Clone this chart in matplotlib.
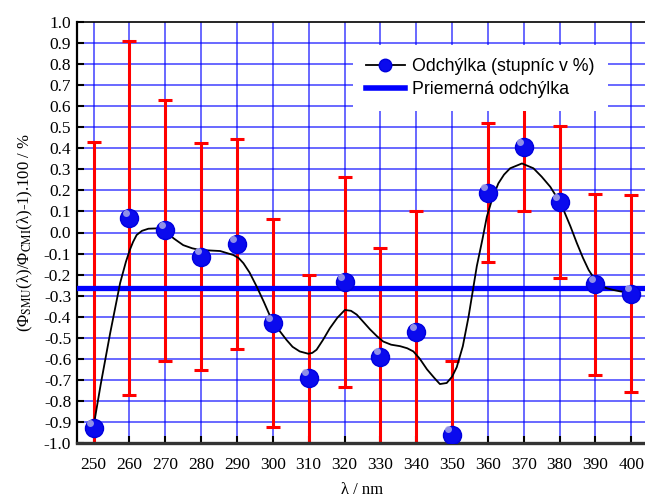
import numpy as np
import matplotlib
matplotlib.use("Agg")
import matplotlib.pyplot as plt
from matplotlib.lines import Line2D

plt.rcParams['mathtext.fontset'] = 'stix'

# measured deviation per wavelength
wl = [250, 260, 270, 280, 290, 300, 310, 320, 330, 340, 350, 360, 370, 380, 390, 400]
dev = [-0.93, 0.07, 0.01, -0.115, -0.055, -0.43, -0.69, -0.235, -0.59, -0.475,
       -0.96, 0.19, 0.405, 0.145, -0.245, -0.29]
err = [1.36, 0.84, 0.62, 0.54, 0.50, 0.495, 0.49, 0.50, 0.515, 0.575,
       0.35, 0.33, 0.305, 0.36, 0.43, 0.47]
mean_dev = -0.263

# smooth trend curve
curve_x = [250, 252, 254.6, 257.4, 259, 260.1, 261, 262, 263.5, 265.3, 268.3, 270,
           272.5, 275, 277.5, 279.7, 285.3, 289, 290.5, 291.8, 293.5, 295.5, 297.5,
           299.3, 300.1, 302, 303.8, 305.5, 307.5, 309.9, 311, 312.2, 314, 315.9,
           318, 320.1, 321.8, 323.4, 325, 327.1, 329, 330.8, 333, 335.5, 337.5,
           339.2, 341, 343, 345, 346.6, 348.5, 350, 351.3, 353, 354.6, 356.9,
           358.5, 359.7, 361.2, 362.9, 364.5, 366.2, 369.5, 372.7, 375, 377.4,
           379.3, 381.1, 383, 384.8, 386.5, 388.1, 389.7, 391.3, 393, 395, 397,
           399.3, 400]
curve_y = [-0.92, -0.72, -0.48, -0.24, -0.14, -0.083, -0.045, -0.012, 0.008, 0.018,
           0.02, 0.004, -0.03, -0.06, -0.075, -0.083, -0.088, -0.107, -0.122,
           -0.146, -0.19, -0.257, -0.33, -0.40, -0.415, -0.47, -0.51, -0.543,
           -0.565, -0.576, -0.572, -0.557, -0.51, -0.455, -0.405, -0.368, -0.372,
           -0.39, -0.42, -0.46, -0.492, -0.518, -0.533, -0.54, -0.55, -0.565,
           -0.6, -0.65, -0.69, -0.72, -0.715, -0.685, -0.64, -0.54, -0.40,
           -0.16, -0.03, 0.075, 0.16, 0.233, 0.275, 0.305, 0.328, 0.305, 0.265,
           0.217, 0.165, 0.107, 0.03, -0.05, -0.12, -0.178, -0.22, -0.249,
           -0.264, -0.273, -0.28, -0.286, -0.288]

fig = plt.figure(figsize=(6.45, 5.0), dpi=100)
ax = fig.add_axes([0.119, 0.114, 0.887, 0.842])

# grid
for x in range(250, 410, 10):
    ax.axvline(x, color='#0000ff', lw=1.1, alpha=0.75, zorder=0)
for y in np.arange(-0.9, 1.0, 0.1):
    ax.axhline(y, color='#0000ff', lw=1.1, alpha=0.75, zorder=0)

ax.errorbar(wl, dev, yerr=err, fmt='none', ecolor='#ff0000', elinewidth=2.2,
            capsize=5, capthick=2.2, zorder=2)
ax.axhline(mean_dev, color='#0000ff', lw=3.8, zorder=3)
ax.plot(curve_x, curve_y, color='black', lw=1.3, zorder=4)
ax.plot(wl, dev, 'o', ms=13, color='#0a0aee', mec='#0000dd', zorder=5)
ax.plot(np.array(wl) - 1.0, np.array(dev) + 0.025, 'o', ms=5,
        color='#a8a8e8', mec='none', alpha=0.85, zorder=6)

ax.set_xlim(245.3, 404.9)
ax.set_ylim(-1.0, 1.0)
ax.set_xticks(wl)
ax.set_yticks(np.round(np.arange(-1.0, 1.01, 0.1), 1))
ax.set_yticklabels([f"{v:.1f}".replace('-0.0', '0.0') for v in np.arange(-1.0, 1.01, 0.1)])
ax.tick_params(direction='in', length=5, width=1.5, labelsize=12.5)
ax.tick_params(axis='x', pad=10)
ax.tick_params(axis='y', pad=4)
for lab in ax.get_xticklabels() + ax.get_yticklabels():
    lab.set_fontfamily('Liberation Serif')

ax.spines['right'].set_visible(False)
ax.spines['top'].set_linewidth(1.2)
ax.spines['left'].set_linewidth(1.6)
ax.spines['bottom'].set_linewidth(2.4)
ax.spines['bottom'].set_color('#333333')

ax.set_xlabel('λ / nm', fontfamily='Liberation Serif', fontsize=12, va='center')
ax.xaxis.set_label_coords(0.498, -0.112)
ax.set_ylabel(r'(Φ$_{\mathrm{SMU}}$(λ)/Φ$_{\mathrm{CMI}}$(λ)-1).100 / %',
              fontfamily='Liberation Serif', fontsize=12, labelpad=6)

handles = [Line2D([], [], color='black', lw=1.3, marker='o', ms=9,
                  mfc='#0a0aee', mec='#0000dd'),
           Line2D([], [], color='#0000ff', lw=4)]
leg = ax.legend(handles, ['Odchýlka (stupníc v %)', 'Priemerná odchýlka'],
                loc='upper left', bbox_to_anchor=(0.482, 0.945), frameon=True,
                fancybox=False, edgecolor='none', facecolor='white', framealpha=1,
                prop={'family': 'Liberation Sans', 'size': 12.8},
                handlelength=2.2, handletextpad=0.4, labelspacing=0.3,
                borderpad=0.75, borderaxespad=0)
leg.set_zorder(10)

fig.savefig('out.png', dpi=100)
